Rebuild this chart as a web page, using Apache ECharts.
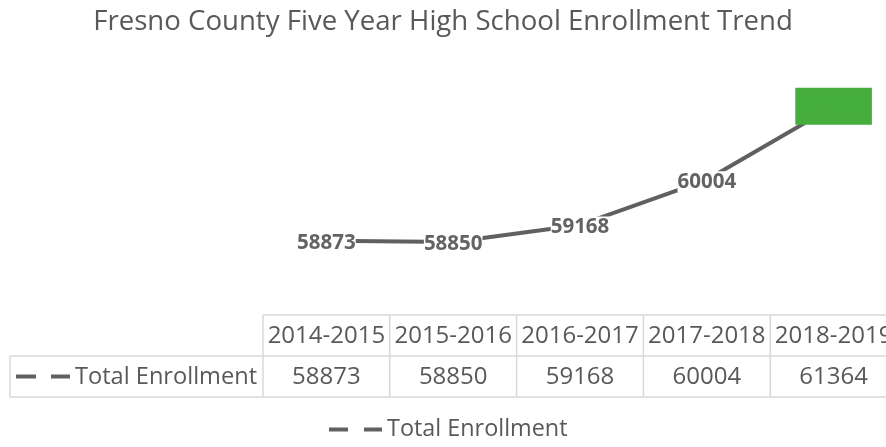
<!DOCTYPE html>
<html>
<head>
<meta charset="utf-8">
<script src="https://cdn.jsdelivr.net/npm/echarts@6/dist/echarts.min.js"></script>
<style>html,body{margin:0;padding:0;background:#fff}#c{width:886px;height:447px}</style>
</head>
<body>
<div id="c"></div>
<script>
const titleText = 'Fresno County Five Year High School Enrollment Trend';
const categories = ['2014-2015', '2015-2016', '2016-2017', '2017-2018', '2018-2019'];
const seriesName = 'Total Enrollment';
const enrollment = [58873, 58850, 59168, 60004, 61364];
const highlightIndex = 4;

const FONT = '"Open Sans", "Noto Sans", sans-serif';
const TXT = '#595959';
const LINE = '#606060';
const GRID = '#d9d9d9';
const GREEN = '#45ae3c';

const chart = echarts.init(document.getElementById('c'), null, {renderer: 'canvas'});

const seriesData = enrollment.map((v, i) => i === highlightIndex ? {
  value: v,
  label: {backgroundColor: GREEN, color: GREEN, padding: [8, 9], offset: [0, 0]}
} : v);

chart.setOption({
  animation: false,
  title: {
    text: titleText, left: 'center', top: 3,
    textStyle: {fontFamily: FONT, fontSize: 27.6, fontWeight: 'normal', color: TXT}
  },
  grid: {left: 263, width: 634, top: 72, height: 243, outerBoundsMode: 'none', containLabel: false},
  xAxis: {
    type: 'category', data: categories, boundaryGap: true,
    axisLine: {show: false}, axisTick: {show: false}, axisLabel: {show: false}, splitLine: {show: false}
  },
  yAxis: {
    type: 'value', min: 57500, max: 62000, show: false, splitLine: {show: false}
  },
  legend: {
    bottom: 1, left: 324,
    icon: 'path://M0,0H19V4H0Z M35,0H53V4H35Z',
    itemWidth: 53, itemHeight: 4, itemGap: 10,
    textStyle: {fontFamily: FONT, fontSize: 23.4, color: TXT},
    data: [seriesName]
  },
  series: [{
    name: seriesName, type: 'line', data: seriesData,
    symbol: 'circle', symbolSize: 1, showSymbol: true,
    lineStyle: {color: LINE, width: 4},
    itemStyle: {color: LINE},
    label: {
      show: true, position: 'inside', offset: [0, 2],
      fontFamily: FONT, fontSize: 20.5, fontWeight: 'bold', color: '#636363',
      backgroundColor: '#fff', padding: [0, 0]
    }
  }]
});

// Data table built from the arrays, aligned to the category axis
const xs = categories.map((c, i) => chart.convertToPixel({xAxisIndex: 0}, i));
const colW = xs[1] - xs[0];
const tTop = chart.convertToPixel({yAxisIndex: 0}, 57500);
const rowH = 41;
const leftOuter = 10;
const g = [];
const ln = (x1, y1, x2, y2) => g.push({type: 'line', shape: {x1, y1, x2, y2}, style: {stroke: GRID, lineWidth: 1.5}, silent: true});
const colLeft = xs[0] - colW / 2;
const colRight = xs[xs.length - 1] + colW / 2;
ln(colLeft, tTop, colRight, tTop);
ln(leftOuter, tTop + rowH, colRight, tTop + rowH);
ln(leftOuter, tTop + 2 * rowH, colRight, tTop + 2 * rowH);
ln(leftOuter, tTop + rowH, leftOuter, tTop + 2 * rowH);
for (let i = 0; i <= categories.length; i++) {
  const x = colLeft + i * colW;
  ln(x, tTop, x, tTop + 2 * rowH);
}
categories.forEach((c, i) => {
  g.push({type: 'text', x: xs[i], y: tTop + rowH / 2 + 1, silent: true,
    style: {text: c, fontFamily: FONT, fontSize: 24, fill: TXT, align: 'center', verticalAlign: 'middle'}});
  g.push({type: 'text', x: xs[i], y: tTop + rowH * 1.5 + 1, silent: true,
    style: {text: String(enrollment[i]), fontFamily: FONT, fontSize: 24, fill: TXT, align: 'center', verticalAlign: 'middle'}});
});
// legend key in table
g.push({type: 'line', shape: {x1: 16, y1: tTop + rowH * 1.5, x2: 70, y2: tTop + rowH * 1.5},
  style: {stroke: LINE, lineWidth: 4, lineDash: [20, 15]}, silent: true});
g.push({type: 'text', x: 75, y: tTop + rowH * 1.5 + 1, silent: true,
  style: {text: seriesName, fontFamily: FONT, fontSize: 23.6, fill: TXT, align: 'left', verticalAlign: 'middle'}});

chart.setOption({graphic: g});
</script>
</body>
</html>
